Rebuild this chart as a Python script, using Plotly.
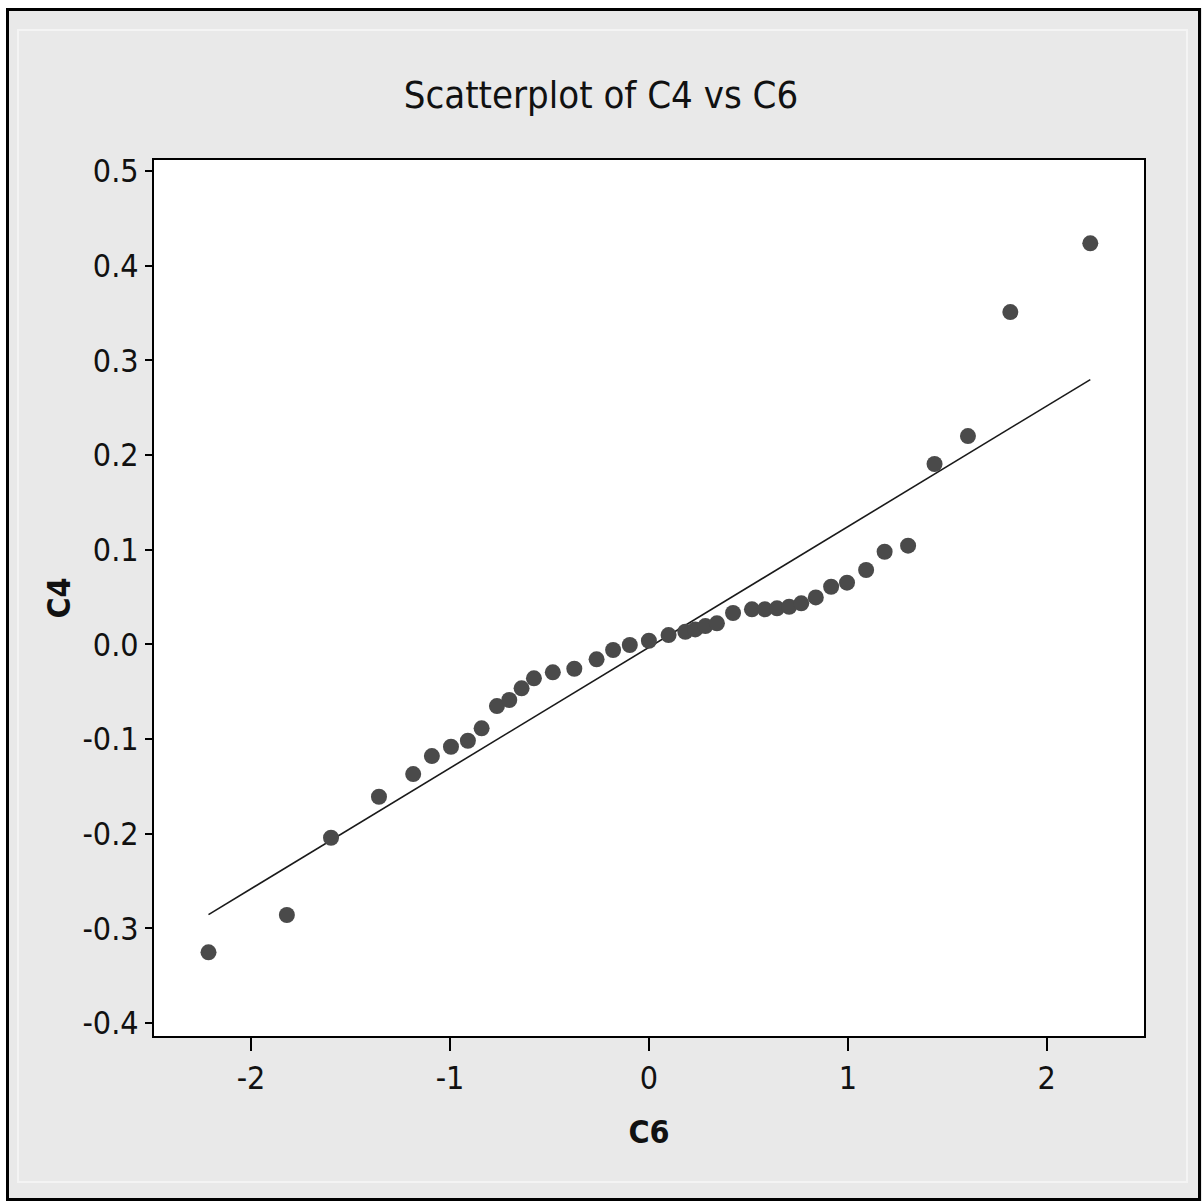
import numpy as np
import plotly.graph_objects as go

# C6 (normal scores) and C4 values
c6 = [-2.214, -1.820, -1.598, -1.357, -1.185, -1.091, -0.995, -0.910, -0.841, -0.764,
      -0.702, -0.640, -0.578, -0.483, -0.375, -0.263, -0.180, -0.096, 0.000, 0.099,
      0.183, 0.233, 0.284, 0.342, 0.423, 0.518, 0.583, 0.644, 0.705, 0.766,
      0.839, 0.916, 0.996, 1.092, 1.185, 1.303, 1.436, 1.604, 1.817, 2.219]
c4 = [-0.3253, -0.2859, -0.2043, -0.1610, -0.1370, -0.1180, -0.1082, -0.1018, -0.0887, -0.0652,
      -0.0588, -0.0465, -0.0359, -0.0296, -0.0258, -0.0158, -0.0060, -0.0007, 0.0038, 0.0098,
      0.0133, 0.0158, 0.0193, 0.0222, 0.0331, 0.0370, 0.0370, 0.0380, 0.0397, 0.0433,
      0.0496, 0.0608, 0.0651, 0.0785, 0.0978, 0.1042, 0.1905, 0.2200, 0.3510, 0.4236]

x_ticks = [-2, -1, 0, 1, 2]
x_ticklabels = ["-2", "-1", "0", "1", "2"]
y_ticks = [-0.4, -0.3, -0.2, -0.1, 0.0, 0.1, 0.2, 0.3, 0.4, 0.5]
y_ticklabels = ["-0.4", "-0.3", "-0.2", "-0.1", "0.0", "0.1", "0.2", "0.3", "0.4", "0.5"]

W, H = 1202, 1201
L, R, T, B = 154, 58, 160, 165
PW, PH = W - L - R, H - T - B

def px_x(px):
    return (px - L) / PW

def px_y(py):
    return (H - B - py) / PH

# least-squares fit line across the data range
slope, intercept = np.polyfit(c6, c4, 1)
fit_x = [min(c6), max(c6)]
fit_y = [slope * v + intercept for v in fit_x]

NARROW = "Liberation Sans Narrow, DejaVu Sans Condensed, Liberation Sans, Arial, sans-serif"

fig = go.Figure()
fig.add_trace(go.Scatter(x=fit_x, y=fit_y, mode="lines",
                         line=dict(color="#1a1a1a", width=1.6), hoverinfo="skip"))
fig.add_trace(go.Scatter(x=c6, y=c4, mode="markers",
                         marker=dict(symbol="circle", size=16, color="#4a4a4a",
                                     line=dict(width=0))))

shapes = [
    # white strips outside the frame
    dict(type="rect", xref="paper", yref="paper", x0=px_x(0), x1=px_x(W), y0=px_y(0), y1=px_y(8),
         fillcolor="white", line=dict(width=0)),
    dict(type="rect", xref="paper", yref="paper", x0=px_x(0), x1=px_x(6), y0=px_y(0), y1=px_y(H),
         fillcolor="white", line=dict(width=0)),
    # faint inner frame
    dict(type="rect", xref="paper", yref="paper", x0=px_x(18), x1=px_x(1187), y0=px_y(1182), y1=px_y(30),
         line=dict(color="#f4f4f4", width=2)),
    # outer black frame
    dict(type="rect", xref="paper", yref="paper", x0=px_x(7.5), x1=px_x(1199.5), y0=px_y(1199.5), y1=px_y(9.5),
         line=dict(color="black", width=3)),
]

fig.update_layout(
    width=W, height=H,
    margin=dict(l=L, r=R, t=T, b=B, autoexpand=False),
    paper_bgcolor="#e9e9e9",
    plot_bgcolor="white",
    showlegend=False,
    shapes=shapes,
    title=dict(text="Scatterplot of C4 vs C6", x=0.5, xref="container", xanchor="center",
               y=1 - 95 / H, yref="container", yanchor="middle",
               font=dict(family=NARROW, size=38, color="#111111")),
)

fig.update_xaxes(
    range=[-2.488, 2.489], tickvals=x_ticks, ticktext=x_ticklabels,
    showgrid=False, zeroline=False,
    showline=True, linecolor="black", linewidth=2, mirror=True,
    ticks="outside", ticklen=13, tickwidth=2, tickcolor="black",
    tickfont=dict(family=NARROW, size=32, color="#111111"),
    title=dict(text="<b>C6</b>", standoff=24, font=dict(family=NARROW, size=32, color="#111111")),
    automargin=False,
)
fig.update_yaxes(
    range=[-0.4137, 0.5116], tickvals=y_ticks, ticktext=y_ticklabels,
    showgrid=False, zeroline=False,
    showline=True, linecolor="black", linewidth=2, mirror=True,
    ticks="outside", ticklen=7, tickwidth=2, tickcolor="black",
    tickfont=dict(family=NARROW, size=32, color="#111111"),
    title=dict(text="<b>C4</b>", standoff=2, font=dict(family=NARROW, size=32, color="#111111")),
    automargin=False,
)

fig.write_html("out.html")
